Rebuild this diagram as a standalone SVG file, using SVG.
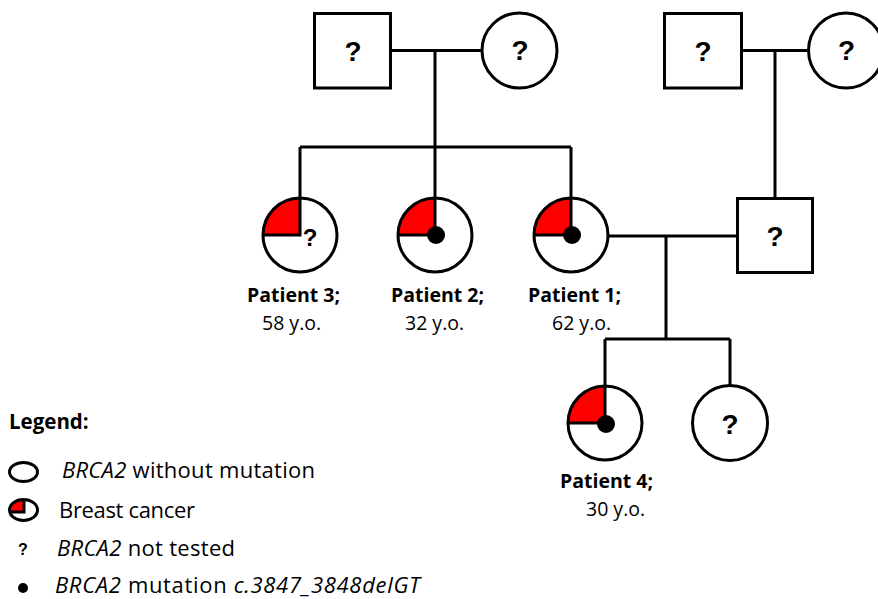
<svg xmlns="http://www.w3.org/2000/svg" width="878" height="599" viewBox="0 0 878 599">
<style>
.ln{stroke:#000;stroke-width:3;fill:none}
.bg{fill:#fff;stroke:none}
.ol{fill:none;stroke:#000;stroke-width:3}
.red{fill:#f00;stroke:none}
.q{font-family:"Liberation Sans",Arial,sans-serif;font-weight:bold;font-size:28px;text-anchor:middle;fill:#000}
.pl{font-family:"Open Sans","Liberation Sans",sans-serif;font-weight:bold;font-size:19.5px;fill:#000}
.age{font-family:"Open Sans","Liberation Sans",sans-serif;font-size:19.5px;fill:#000}
.lg{font-family:"Open Sans","Liberation Sans",sans-serif;font-size:22px;fill:#000}
.lgh{font-family:"Open Sans","Liberation Sans",sans-serif;font-weight:bold;font-size:20.5px;fill:#000}
</style>
<rect width="878" height="599" fill="#fff"/>
<g id="connectors">
<path class="ln" d="M391,50.5H482M435,50.5V147M300,147H571M300,147V198M435,147V198M571,147V198"/>
<path class="ln" d="M742,50.5H808M775,50.5V198"/>
<path class="ln" d="M608,236H737M666,236V339M605,339H730M605,339V386M730,339V386"/>
</g>
<g id="grandfather1">
<rect x="314.5" y="13.5" width="76" height="74.5" fill="#fff" stroke="#000" stroke-width="3"/>
<text class="q" x="353" y="61">?</text>
</g>
<g id="grandmother1">
<circle cx="519.5" cy="50.5" r="37.5" fill="#fff" stroke="#000" stroke-width="3"/>
<text class="q" x="520" y="60">?</text>
</g>
<g id="grandfather2">
<rect x="664.5" y="13.5" width="77" height="74.5" fill="#fff" stroke="#000" stroke-width="3"/>
<text class="q" x="703" y="61">?</text>
</g>
<g id="grandmother2">
<circle cx="846" cy="50.5" r="37.5" fill="#fff" stroke="#000" stroke-width="3"/>
<text class="q" x="846.5" y="60">?</text>
</g>
<g id="patient3">
<circle class="bg" cx="300" cy="235" r="37"/>
<path class="red" d="M300,235H263A37,37 0 0 1 300,198Z"/>
<path class="ln" d="M263,235H300V198"/>
<circle class="ol" cx="300" cy="235" r="37"/>
<text class="q" x="310" y="246" style="font-size:24px">?</text>
<text class="pl" x="247" y="302">Patient 3;</text>
<text class="age" x="262" y="330">58 y.o.</text>
</g>
<g id="patient2">
<circle class="bg" cx="435" cy="235" r="37"/>
<path class="red" d="M435,235H398A37,37 0 0 1 435,198Z"/>
<path class="ln" d="M398,235H435V198"/>
<circle class="ol" cx="435" cy="235" r="37"/>
<circle cx="436" cy="235" r="9" fill="#000"/>
<text class="pl" x="391" y="302">Patient 2;</text>
<text class="age" x="405" y="330">32 y.o.</text>
</g>
<g id="patient1">
<circle class="bg" cx="571" cy="235" r="37"/>
<path class="red" d="M571,235H534A37,37 0 0 1 571,198Z"/>
<path class="ln" d="M534,235H571V198"/>
<circle class="ol" cx="571" cy="235" r="37"/>
<circle cx="572" cy="235" r="9" fill="#000"/>
<text class="pl" x="528" y="302">Patient 1;</text>
<text class="age" x="552" y="330">62 y.o.</text>
</g>
<g id="spouse">
<rect x="737.5" y="198.5" width="75" height="74" fill="#fff" stroke="#000" stroke-width="3"/>
<text class="q" x="775" y="246">?</text>
</g>
<g id="patient4">
<circle class="bg" cx="605" cy="423" r="37"/>
<path class="red" d="M605,423H568A37,37 0 0 1 605,386Z"/>
<path class="ln" d="M568,423H605V386"/>
<circle class="ol" cx="605" cy="423" r="37"/>
<circle cx="606" cy="424" r="9" fill="#000"/>
<text class="pl" x="560" y="488">Patient 4;</text>
<text class="age" x="586" y="516">30 y.o.</text>
</g>
<g id="sister">
<circle cx="730" cy="423" r="37.5" fill="#fff" stroke="#000" stroke-width="3"/>
<text class="q" x="730" y="434">?</text>
</g>
<g id="legend">
<text class="lgh" x="9" y="429">Legend:</text>
<ellipse class="ol" cx="23.5" cy="472" rx="14" ry="9.5"/>
<text class="lg" x="62" y="478" textLength="253"><tspan font-style="italic">BRCA2</tspan> without mutation</text>
<ellipse class="bg" cx="23.5" cy="510" rx="14" ry="10"/>
<path class="red" d="M24,512H9.5A14.5,10 0 0 1 24,500Z"/>
<path class="ln" d="M9.5,512H24V500"/>
<ellipse class="ol" cx="23.5" cy="510" rx="14" ry="10.5"/>
<text class="lg" x="59" y="518" textLength="136">Breast cancer</text>
<text class="q" x="23" y="555" style="font-size:16px">?</text>
<text class="lg" x="57" y="556" textLength="178"><tspan font-style="italic">BRCA2</tspan> not tested</text>
<circle cx="23" cy="588" r="5" fill="#000"/>
<text class="lg" x="55" y="593" textLength="365"><tspan font-style="italic">BRCA2</tspan> mutation <tspan font-style="italic">c.3847_3848delGT</tspan></text>
</g>
</svg>
